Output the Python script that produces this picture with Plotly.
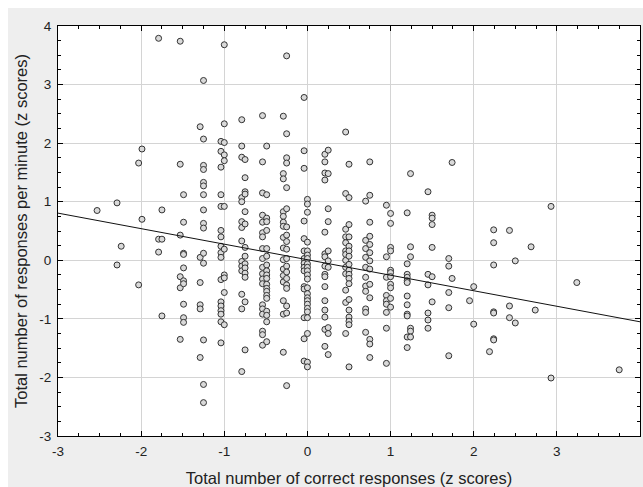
import plotly.graph_objects as go

# x positions (z scores of correct responses) of each column of points
col_x = [-2.53, -2.29, -2.24, -2.03, -1.99, -1.79, -1.75, -1.53, -1.49, -1.29, -1.25,
         -1.04, -1.00, -0.79, -0.75, -0.54, -0.49, -0.29, -0.25, -0.04, 0.00,
         0.21, 0.25, 0.46, 0.50, 0.70, 0.75, 0.95, 1.00, 1.20, 1.24, 1.45, 1.50,
         1.70, 1.74, 1.95, 2.00, 2.19, 2.24, 2.43, 2.50, 2.69, 2.74, 2.93, 3.24, 3.75]

# y values (z scores of responses per minute) for each column
col_y = [
    [0.85],
    [0.98, -0.08],
    [0.24],
    [1.66, -0.42],
    [1.90, 0.70],
    [3.79, 0.36, 0.14],
    [0.86, 0.36, -0.95],
    [3.74, 1.64, 0.43, -0.28, -0.47, -1.35],
    [1.12, 0.65, 0.12, 0.10, -0.13, -0.35, -0.40, -0.75, -0.98, -1.06],
    [2.28, 0.05, -0.38, -0.76, -0.83, -1.66],
    [3.07, 2.07, 1.62, 1.55, 1.33, 1.27, 1.12, 0.86, 0.63, 0.55, 0.12, -0.05, -1.36, -2.12, -2.43],
    [2.03, 1.86, 1.59, 1.12, 0.92, 0.51, 0.40, 0.24, 0.13, 0.05, -0.33, -0.71, -0.78, -0.86, -0.92, -1.05, -1.41],
    [3.68, 2.33, 2.01, 1.80, 1.70, 0.92, 0.19, -0.25, -0.30, -0.55, -1.10],
    [2.40, 1.95, 1.76, 1.07, 1.00, 0.66, 0.56, 0.33, -0.02, -0.10, -0.18, -0.58, -0.83, -1.90],
    [1.72, 1.41, 1.17, 1.13, 0.83, 0.62, 0.22, 0.07, -0.06, -0.13, -0.22, -0.29, -0.71, -1.53],
    [2.47, 1.68, 1.15, 0.77, 0.65, 0.47, 0.40, 0.20, 0.03, -0.12, -0.23, -0.32, -0.40, -0.76, -0.83, -0.92, -1.21, -1.27, -1.45],
    [1.95, 1.12, 0.72, 0.66, 0.51, 0.20, 0.07, -0.08, -0.18, -0.25, -0.31, -0.41, -0.48, -0.53, -0.60, -0.65, -0.87, -0.94, -1.05, -1.39],
    [2.46, 1.48, 1.39, 0.83, 0.75, 0.65, 0.58, 0.39, 0.21, 0.01, -0.15, -0.26, -0.37, -0.69, -0.92, -1.57],
    [3.49, 2.16, 1.75, 1.66, 1.24, 0.88, 0.57, 0.43, 0.32, 0.19, 0.03, -0.10, -0.20, -0.31, -0.42, -0.48, -0.78, -0.90, -2.14],
    [2.78, 1.87, 1.57, 0.67, 0.37, 0.16, 0.03, -0.05, -0.12, -0.18, -0.45, -0.49, -0.98, -1.34, -1.72],
    [1.04, 0.96, 0.82, 0.31, 0.16, 0.09, 0.03, -0.06, -0.12, -0.18, -0.25, -0.32, -0.47, -0.57, -0.64, -0.69, -0.75, -0.82, -0.88, -0.98, -1.25, -1.74, -1.82],
    [1.81, 1.68, 1.49, 1.37, 0.48, 0.11, 0.06, -0.10, -0.24, -0.28, -0.45, -0.69, -0.85, -0.97, -1.18, -1.47],
    [1.88, 1.48, 0.88, 0.66, 0.16, -0.01, -0.12, -1.15, -1.25, -1.61],
    [2.19, 1.14, 0.53, 0.40, 0.30, 0.16, 0.10, 0.00, -0.12, -0.23, -0.51, -0.72, -1.25],
    [1.64, 1.07, 0.61, 0.40, 0.24, 0.16, 0.07, -0.07, -0.17, -0.24, -0.31, -0.40, -0.67, -0.85, -0.97, -1.04, -1.10, -1.82],
    [1.01, 0.34, 0.20, 0.05, -0.12, -0.29, -0.44, -0.53, -0.83, -0.89, -1.23],
    [1.68, 1.11, 0.65, 0.41, 0.27, 0.13, -0.01, -0.15, -0.41, -0.64, -1.35, -1.43, -1.66],
    [0.94, 0.06, -0.29, -0.60, -0.69, -0.75, -0.89, -1.16, -1.76],
    [0.80, 0.63, 0.22, 0.16, -0.17, -0.21, -0.28, -0.41, -0.47, -0.65, -0.80],
    [0.81, -0.06, -0.24, -0.29, -0.35, -0.38, -0.61, -0.76, -0.92, -0.95, -1.31, -1.49],
    [1.48, 0.23, 0.06, -1.16, -1.21, -1.31],
    [1.17, -0.24, -0.42, -0.90, -1.02, -1.16],
    [0.77, 0.72, 0.61, 0.22, -0.28, -0.71],
    [0.03, -0.10, -0.55, -0.81, -1.63],
    [1.67, -0.31],
    [-0.69],
    [-0.45, -1.09],
    [-1.56],
    [0.52, 0.30, -0.08, -0.88, -0.90, -1.34, -1.36],
    [0.51, -0.78, -0.98],
    [-0.01, -1.07],
    [0.23],
    [-0.85],
    [0.92, -2.01],
    [-0.38],
    [-1.87],
]

# fitted regression line
fit_intercept = 0.01
fit_slope = -0.265
fit_x = [-3, 4]

tick_vals = [-3, -2, -1, 0, 1, 2, 3, 4]
tick_text = ["-3", "-2", "-1", "0", "1", "2", "3", "4"]

xs, ys = [], []
for cx, cys in zip(col_x, col_y):
    for cy in cys:
        xs.append(cx)
        ys.append(cy)

fit_y = [fit_intercept + fit_slope * v for v in fit_x]

fig = go.Figure()
fig.add_trace(go.Scatter(
    x=xs, y=ys, mode="markers",
    marker=dict(symbol="circle", size=6, color="#d9d9d9",
                line=dict(color="#333333", width=1)),
    showlegend=False, cliponaxis=False,
))
fig.add_trace(go.Scatter(
    x=fit_x, y=fit_y, mode="lines",
    line=dict(color="#111111", width=1),
    showlegend=False,
))

font_family = "Liberation Sans, Arial, sans-serif"
axis_common = dict(
    range=[-3, 4], tickmode="array", tickvals=tick_vals, ticktext=tick_text,
    showgrid=True, gridcolor="#d4d4d4", gridwidth=1, zeroline=False,
    showline=True, linecolor="#000000", linewidth=1, mirror="allticks",
    ticks="inside", ticklen=5, tickcolor="#000000", tickwidth=1,
    minor=dict(dtick=0.25, tick0=0, ticks="inside", ticklen=3,
               tickcolor="#000000", showgrid=False),
    tickfont=dict(family=font_family, size=13.5, color="#222222"),
    ticklabelstandoff=3,
)

fig.update_layout(
    width=643, height=487,
    margin=dict(l=58, r=3, t=26, b=51, autoexpand=False),
    paper_bgcolor="#eeeeee", plot_bgcolor="#ffffff",
    font=dict(family=font_family, color="#222222"),
    xaxis=dict(**axis_common,
               title=dict(text="Total number of correct responses (z scores)",
                          font=dict(family=font_family, size=16.5, color="#222222"),
                          standoff=15)),
    yaxis=dict(**axis_common,
               title=dict(text="Total number of responses per minute (z scores)",
                          font=dict(family=font_family, size=16.5, color="#222222"),
                          standoff=7)),
    shapes=[
        dict(type="rect", xref="paper", yref="paper", x0=-0.2, x1=1.1,
             y0=(436 - 8) / 410, y1=1.2, fillcolor="#ffffff", line=dict(width=0),
             layer="below"),
        dict(type="rect", xref="paper", yref="paper", x0=-0.2, x1=(8 - 58) / 582,
             y0=-0.3, y1=1.2, fillcolor="#ffffff", line=dict(width=0),
             layer="below"),
    ],
)

fig.write_html("out.html")
